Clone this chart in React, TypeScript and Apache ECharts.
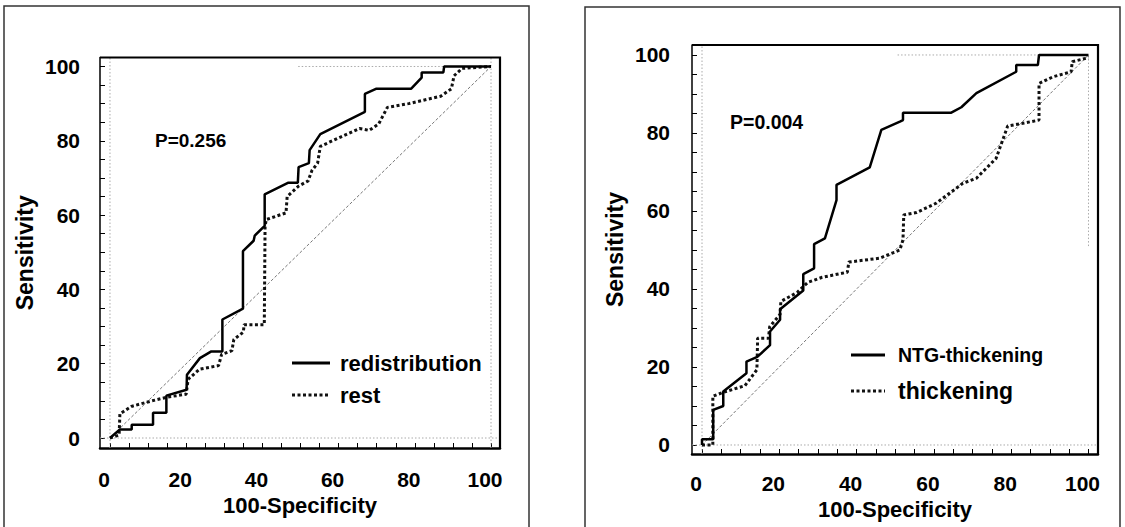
import React, { useEffect, useRef } from "react";
import * as echarts from "echarts";

// ---------- data ----------
const tickValues = [0, 5, 10, 15, 20, 25, 30, 35, 40, 45, 50, 55, 60, 65, 70, 75, 80, 85, 90, 95, 100];
const labelValues = [0, 20, 40, 60, 80, 100];

const xAxisTitle = "100-Specificity";
const yAxisTitle = "Sensitivity";

const leftSolidName = "redistribution";
const leftDotName = "rest";
const leftP = "P=0.256";
const rightSolidName = "NTG-thickening";
const rightDotName = "thickening";
const rightP = "P=0.004";

// left panel: redistribution (solid)
const redistX = [0, 2.6, 5.7, 5.7, 11.3, 11.3, 14.8, 14.8, 20.1, 20.2, 23.6, 26.6, 29.5, 29.5, 34.9, 34.9, 37.7, 38.0, 40.6, 40.6, 46.7, 49.3, 49.5, 52.2, 52.4, 55.2, 66.9, 66.9, 69.8, 79.0, 81.8, 81.8, 87.5, 87.7, 100];
const redistY = [0, 2.3, 2.3, 3.6, 3.6, 6.8, 6.8, 11.4, 13.0, 17.0, 21.5, 23.3, 23.3, 31.9, 34.8, 50.3, 53.1, 54.5, 57.1, 65.6, 68.7, 68.7, 72.9, 74.0, 77.5, 81.8, 87.8, 92.6, 94.0, 94.0, 97.0, 98.4, 98.4, 100, 100];

// left panel: rest (dotted)
const restX = [0, 2.4, 2.6, 5.6, 11, 15, 20, 20.5, 23.5, 28.5, 29.3, 32, 32.5, 35, 35.2, 40.5, 40.7, 41, 46.2, 46.5, 49.5, 52, 53, 54.5, 55.2, 60.5, 65.5, 68, 70.5, 72.8, 78.4, 86.8, 89.6, 90.3, 92.4, 100];
const restY = [0, 0.8, 6.5, 8.5, 10, 11, 11.8, 15.8, 18.5, 19.5, 22.5, 23.5, 26.5, 28.5, 30.5, 30.5, 56.8, 58.8, 60.6, 65, 67.8, 69.2, 72, 74, 78.5, 81, 83.3, 82.8, 84.5, 89, 90, 92, 94, 97.5, 99.5, 100];

// right panel: NTG-thickening (solid)
const ntgX = [0, 0, 2.9, 2.9, 5.5, 5.5, 11.5, 11.5, 14.3, 17.6, 17.6, 20.2, 20.2, 26.2, 26.2, 29, 29, 31.8, 34.8, 34.8, 43.4, 46.4, 51.2, 52, 52, 64.5, 67.1, 71, 81.3, 81.3, 86.9, 87.2, 100];
const ntgY = [0, 1.5, 1.5, 9.0, 10.0, 13.7, 18.4, 21.4, 22.6, 25.6, 29.1, 32.1, 34.8, 39.6, 43.8, 45.3, 51.5, 53, 62.8, 66.7, 71.2, 80.8, 82.9, 83.3, 85.2, 85.2, 86.6, 90.2, 95.7, 97.4, 97.4, 100, 100];

// right panel: thickening (dotted)
const thX = [0, 2.8, 2.8, 5.5, 11.1, 14.2, 14.4, 17.2, 17.5, 20.2, 20.4, 24.6, 27.4, 31.1, 37.6, 38, 46, 51.2, 52, 52.2, 55.5, 60.6, 67.5, 71, 76.1, 79.1, 83, 87.2, 87.2, 90.8, 95.5, 95.8, 100];
const thY = [0, 0, 12.5, 13.5, 15.2, 19.3, 27.4, 27.4, 30.3, 33.5, 36.8, 39.1, 41.7, 43, 44.3, 46.9, 47.9, 50, 52.6, 59, 59.6, 62, 67.1, 68.4, 73.5, 81.8, 82.5, 83.3, 92.7, 94.4, 95.7, 98.3, 99.3];

// axis ranges (plot boxes extend slightly beyond 0..100)
const leftXRange = [-2.62, 102.36];
const leftYRange = [-2.69, 102.42];
const rightXRange = [-2.59, 102.46];
const rightYRange = [-2.31, 102.56];

// reference (light dotted) lines: [x1, y1, x2, y2]
const leftRefLines = [
  [0, -2.69, 0, 102.42],
  [-2.62, 0, 102.36, 0],
  [100, -2.69, 100, 102.42],
  [49.4, 100, 100, 100],
];
const rightRefLines = [
  [0, -2.31, 0, 102.56],
  [-2.59, 0, 102.46, 0],
  [50.6, 100, 100, 100],
  [100, 51, 100, 100],
];
const diagonal = [0, 0, 100, 100];

function pairs(xs: number[], ys: number[]) {
  return xs.map((x, i) => [x, ys[i]]);
}

const FONT = "'Liberation Sans', Arial, Helvetica, sans-serif";

const LEFT_GRID = { left: 100, top: 57.5, width: 400, height: 390.5 };
const RIGHT_GRID = { left: 692, top: 45, width: 406, height: 409 };

function mkX(gridIndex: number, range: number[], margin: number, nameGap: number) {
  return {
    type: "value",
    gridIndex,
    min: range[0],
    max: range[1],
    name: xAxisTitle,
    nameLocation: "middle",
    nameGap,
    nameTextStyle: { fontSize: 22, fontWeight: "bold", color: "#000", fontFamily: FONT },
    axisLine: { show: true, onZero: false, lineStyle: { color: "#000", width: 2.5 } },
    axisTick: { show: true, inside: true, length: 5, customValues: tickValues, lineStyle: { color: "#000", width: 1 } },
    axisLabel: { show: true, customValues: labelValues, margin, padding: [0, 12, 0, 0], fontSize: 21, fontWeight: "bold", color: "#000", fontFamily: FONT },
    splitLine: { show: false },
  };
}

function mkY(gridIndex: number, range: number[], margin: number, nameGap: number) {
  return {
    type: "value",
    gridIndex,
    min: range[0],
    max: range[1],
    name: yAxisTitle,
    nameLocation: "middle",
    nameRotate: 90,
    nameGap,
    nameTextStyle: { fontSize: 23, fontWeight: "bold", color: "#000", fontFamily: FONT },
    axisLine: { show: true, onZero: false, lineStyle: { color: "#000", width: 1.5 } },
    axisTick: { show: true, inside: true, length: 5, customValues: tickValues, lineStyle: { color: "#000", width: 1 } },
    axisLabel: { show: true, customValues: labelValues, margin, fontSize: 21, fontWeight: "bold", color: "#000", fontFamily: FONT },
    splitLine: { show: false },
  };
}

function refSeries(lines: number[][], idx: number) {
  return lines.map((l) => ({
    type: "line",
    xAxisIndex: idx,
    yAxisIndex: idx,
    data: [[l[0], l[1]], [l[2], l[3]]],
    symbol: "none",
    silent: true,
    lineStyle: { color: "#aaa", width: 1, type: [1.5, 2] },
    z: 1,
  }));
}

function diagSeries(idx: number) {
  return {
    type: "line",
    xAxisIndex: idx,
    yAxisIndex: idx,
    data: [[diagonal[0], diagonal[1]], [diagonal[2], diagonal[3]]],
    symbol: "none",
    silent: true,
    lineStyle: { color: "#666", width: 0.9, type: [3, 2] },
    z: 2,
  };
}

function curve(name: string, xs: number[], ys: number[], idx: number, dotted: boolean) {
  return {
    type: "line",
    name,
    xAxisIndex: idx,
    yAxisIndex: idx,
    data: pairs(xs, ys),
    symbol: "none",
    silent: true,
    lineStyle: dotted
      ? { color: "#111", width: 3, type: [3, 2.5], cap: "butt" }
      : { color: "#000", width: 2.5 },
    z: dotted ? 4 : 5,
  };
}

// plot-box edges (top and right) as polylines
function boxEdges(g: { left: number; top: number; width: number; height: number }) {
  const r = g.left + g.width;
  const b = g.top + g.height;
  return [
    { type: "polyline", shape: { points: [[g.left, g.top], [r, g.top], [r, b]] }, style: { stroke: "#000", lineWidth: 2.2, fill: null }, silent: true, z: 100 },
  ];
}

function legendLine(x1: number, x2: number, y: number, dotted: boolean) {
  return {
    type: "line",
    shape: { x1, y1: y, x2, y2: y },
    style: dotted
      ? { stroke: "#111", lineWidth: 3, lineDash: [3, 2.5] }
      : { stroke: "#000", lineWidth: 3 },
    silent: true,
  };
}

function label(text: string, x: number, y: number, size: number) {
  return {
    type: "text",
    x,
    y,
    style: {
      text,
      fill: "#000",
      font: `bold ${size}px ${FONT}`,
      textAlign: "left",
      textVerticalAlign: "middle",
      align: "left",
      verticalAlign: "middle",
    },
    silent: true,
  };
}

export default function App() {
  const ref = useRef<HTMLDivElement>(null);

  useEffect(() => {
    document.body.style.margin = "0";
    if (!ref.current) return;
    const chart = echarts.init(ref.current, undefined, { renderer: "svg" });
    const option: any = {
      animation: false,
      backgroundColor: "#fff",
      grid: [
        { ...LEFT_GRID, show: false },
        { ...RIGHT_GRID, show: false },
      ],
      xAxis: [mkX(0, leftXRange, 21, 44), mkX(1, rightXRange, 19, 42)],
      yAxis: [mkY(0, leftYRange, 20, 64), mkY(1, rightYRange, 22, 66)],
      series: [
        ...refSeries(leftRefLines, 0),
        diagSeries(0),
        curve(leftDotName, restX, restY, 0, true),
        curve(leftSolidName, redistX, redistY, 0, false),
        ...refSeries(rightRefLines, 1),
        diagSeries(1),
        curve(rightDotName, thX, thY, 1, true),
        curve(rightSolidName, ntgX, ntgY, 1, false),
      ],
      graphic: [
        { type: "rect", shape: { x: 4, y: 6, width: 525, height: 540 }, style: { fill: "none", stroke: "#333", lineWidth: 1.5 }, silent: true },
        { type: "rect", shape: { x: 585, y: 7, width: 535, height: 540 }, style: { fill: "none", stroke: "#333", lineWidth: 1.5 }, silent: true },
        ...boxEdges(LEFT_GRID),
        ...boxEdges(RIGHT_GRID),
        legendLine(292, 330, 363, false),
        legendLine(292, 330, 395, true),
        label(leftSolidName, 340, 363, 22),
        label(leftDotName, 340, 395, 22),
        label(leftP, 155, 140, 19),
        legendLine(851, 885, 355, false),
        legendLine(851, 885, 391, true),
        label(rightSolidName, 898, 355, 19.5),
        label(rightDotName, 898, 391, 23),
        label(rightP, 730, 122, 19.5),
      ],
    };
    chart.setOption(option);
    return () => chart.dispose();
  }, []);

  return <div ref={ref} style={{ width: 1125, height: 527 }} />;
}
